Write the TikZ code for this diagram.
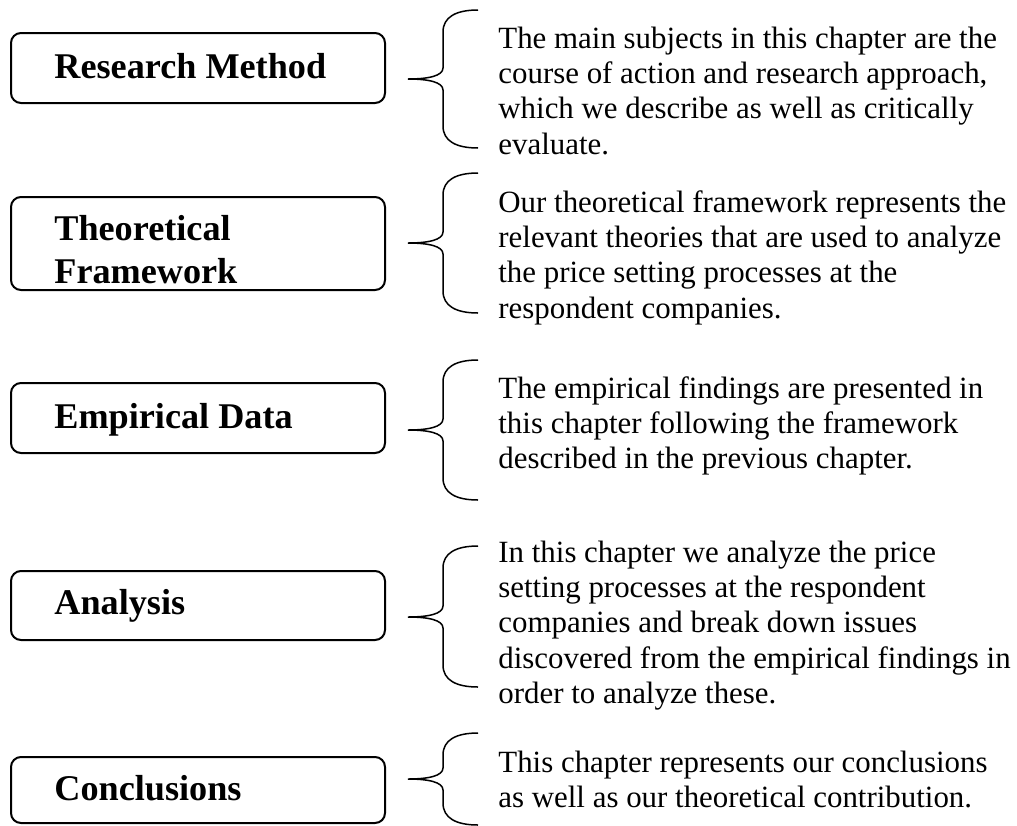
\documentclass[tikz,border=0pt]{standalone}
\usepackage{fontspec}
\setmainfont{Liberation Serif}
\newcommand{\chapbrace}[3]{%
  \draw[bracestyle] (478,#1) .. controls (456,#1) and (443,#1+7) .. (443,#1+22)
    -- (443,#2-11) .. controls (443,#2-3) and (428,#2) .. (408,#2)
    .. controls (428,#2) and (443,#2+3) .. (443,#2+11)
    -- (443,#3-22) .. controls (443,#3-7) and (456,#3) .. (478,#3);}
\newcommand{\leftpar}[2]{\parbox[t]{#1}{\raggedright #2}}
\begin{document}
\begin{tikzpicture}[x=0.5pt,y=-0.5pt,
  box/.style={draw, line width=1pt, rounded corners=5pt, minimum width=187pt, inner sep=0pt},
  head/.style={anchor=base west, inner sep=0pt, font=\fontsize{18.1pt}{21.5pt}\selectfont\bfseries},
  desc/.style={anchor=base west, inner sep=0pt, font=\fontsize{15.45pt}{17.7pt}\selectfont},
  bracestyle/.style={line width=0.75pt}]
\useasboundingbox (0,0) rectangle (1017,825);
\clip (0,0) rectangle (1017,825);

% boxes
\node[box, minimum height=35pt]   (b1) at (198,68)  {};
\node[box, minimum height=46.5pt] (b2) at (198,243.5) {};
\node[box, minimum height=35pt]   (b3) at (198,418) {};
\node[box, minimum height=34.5pt] (b4) at (198,605.5) {};
\node[box, minimum height=33pt]   (b5) at (198,790) {};

% headings
\node[head] (h1) at (54,78)  {\leftpar{170pt}{Research Method}};
\node[head] (h2) at (54,240) {\leftpar{170pt}{Theoretical\\Framework}};
\node[head] (h3) at (54,428) {\leftpar{170pt}{Empirical Data}};
\node[head] (h4) at (54,614) {\leftpar{170pt}{Analysis}};
\node[head] (h5) at (54,800) {\leftpar{170pt}{Conclusions}};

% braces
\chapbrace{10}{79}{148}
\chapbrace{173}{243}{313}
\chapbrace{360}{430}{500}
\chapbrace{546}{617}{687}
\chapbrace{733}{779}{825}

% descriptions
\node[desc] (d1) at (498,48) {\leftpar{300pt}{The main subjects in this chapter are the\\course of action and research approach,\\which we describe as well as critically\\evaluate.}};
\node[desc] (d2) at (498,212) {\leftpar{300pt}{Our theoretical framework represents the\\relevant theories that are used to analyze\\the price setting processes at the\\respondent companies.}};
\node[desc] (d3) at (498,398) {\leftpar{300pt}{The empirical findings are presented in\\this chapter following the framework\\described in the previous chapter.}};
\node[desc] (d4) at (498,562) {\leftpar{300pt}{In this chapter we analyze the price\\setting processes at the respondent\\companies and break down issues\\discovered from the empirical findings in\\order to analyze these.}};
\node[desc] (d5) at (498,772) {\leftpar{300pt}{This chapter represents our conclusions\\as well as our theoretical contribution.}};
\end{tikzpicture}
\end{document}
